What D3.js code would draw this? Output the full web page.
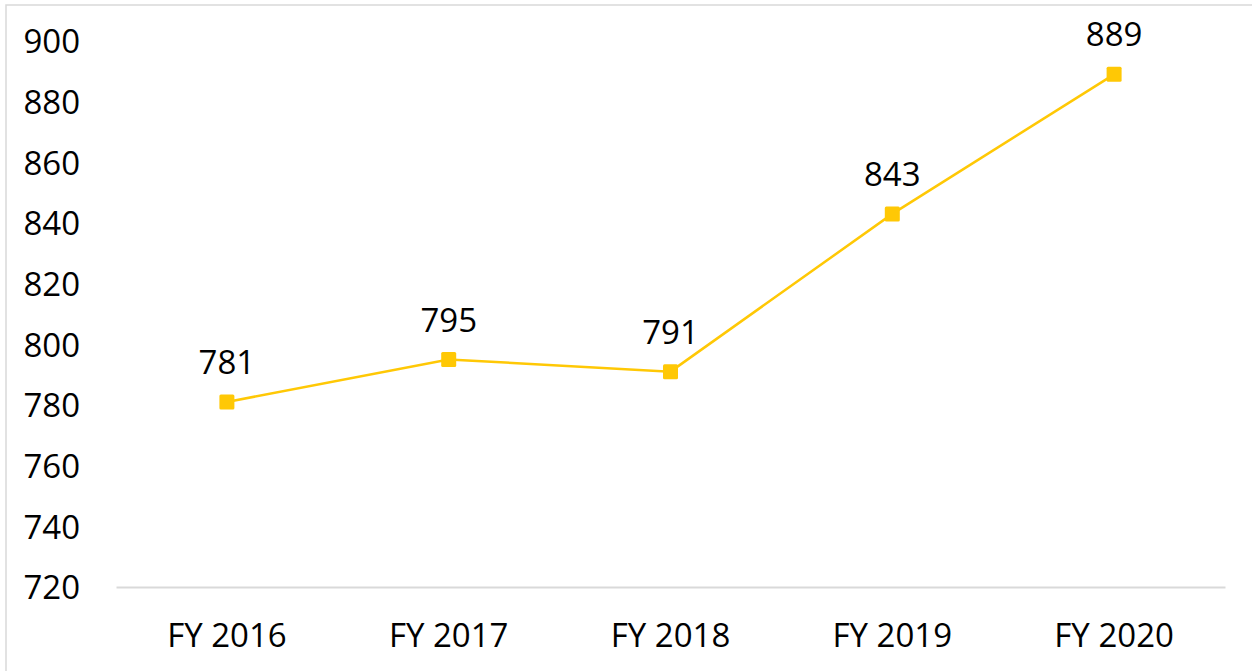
<!DOCTYPE html>
<html>
<head>
<meta charset="utf-8">
<script src="https://cdn.jsdelivr.net/npm/d3@7"></script>
<style>
  body { margin: 0; background: #fff; }
  text { font-family: "Open Sans", "Noto Sans", sans-serif; fill: #000; }
</style>
</head>
<body>
<script>
// data
var years = ["FY 2016", "FY 2017", "FY 2018", "FY 2019", "FY 2020"];
var values = [781, 795, 791, 843, 889];
var yTicks = [720, 740, 760, 780, 800, 820, 840, 860, 880, 900];

var W = 1252, H = 671;

var svg = d3.select("body")
	.append("svg")
	.attr("width", W)
	.attr("height", H);

// chart border (only top and left edges are inside the frame)
svg.append("rect")
	.attr("x", 6)
	.attr("y", 5)
	.attr("width", 1400)
	.attr("height", 800)
	.attr("fill", "none")
	.attr("stroke", "#d9d9d9")
	.attr("stroke-width", 1.5);

var x = d3.scaleBand()
	.domain(years)
	.range([116, 1225]);

var y = d3.scaleLinear()
	.domain([720, 900])
	.range([587, 41]);

// x axis
var xAxis = svg.append("g")
	.attr("transform", "translate(0," + y(720) + ")")
	.call(d3.axisBottom(x).tickSize(0).tickPadding(0).tickSizeOuter(0));
xAxis.select(".domain")
	.attr("stroke", "#d9d9d9")
	.attr("stroke-width", 2);
xAxis.selectAll("text")
	.attr("dy", null)
	.attr("y", 60)
	.style("font-size", "33px");

// y axis (labels only)
var yAxis = svg.append("g")
	.attr("transform", "translate(80,0)")
	.call(d3.axisLeft(y).tickValues(yTicks).tickSize(0).tickPadding(0));
yAxis.select(".domain").remove();
yAxis.selectAll("text")
	.attr("dy", "0.36em")
	.style("font-size", "33px");

var cx = function(d, i) { return x(years[i]) + x.bandwidth() / 2; };

// line
var line = d3.line()
	.x(cx)
	.y(function(d) { return y(d); });

svg.append("path")
	.datum(values)
	.attr("d", line)
	.attr("fill", "none")
	.attr("stroke", "#ffc805")
	.attr("stroke-width", 2.5);

// markers
svg.selectAll("rect.marker")
	.data(values)
	.enter()
	.append("rect")
	.attr("class", "marker")
	.attr("x", function(d, i) { return cx(d, i) - 7.5; })
	.attr("y", function(d) { return y(d) - 7.5; })
	.attr("width", 15)
	.attr("height", 15)
	.attr("rx", 1.5)
	.attr("fill", "#ffc805");

// data labels
svg.selectAll("text.label")
	.data(values)
	.enter()
	.append("text")
	.attr("class", "label")
	.attr("x", cx)
	.attr("y", function(d) { return y(d) - 28; })
	.attr("text-anchor", "middle")
	.style("font-size", "33px")
	.text(function(d) { return d; });
</script>
</body>
</html>
